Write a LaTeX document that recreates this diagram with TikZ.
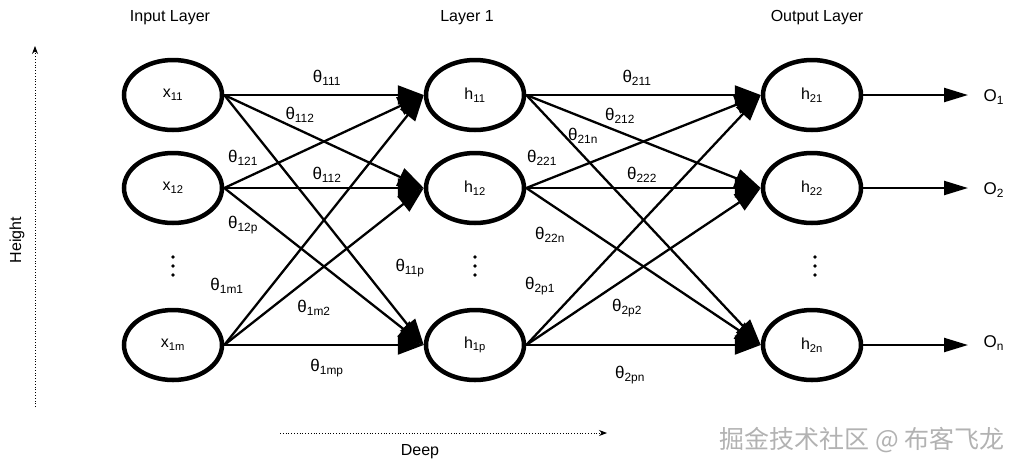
\documentclass[tikz,border=0pt]{standalone}
\usepackage{fontspec}
\setmainfont{Liberation Sans}
\newfontfamily\cjk{Noto Sans CJK SC}
\usetikzlibrary{arrows.meta,shapes.geometric}
\begin{document}
\begin{tikzpicture}[x=1pt,y=-1pt,
  neuron/.style={ellipse,draw,line width=4.5pt,minimum width=98pt,minimum height=70pt,inner sep=0pt,font=\fontsize{16}{16}\selectfont},
  conn/.style={line width=2.3pt,-{Triangle[length=26pt,width=19pt]}},
  wlab/.style={font=\fontsize{17}{17}\selectfont},
  title/.style={font=\fontsize{16}{16}\selectfont}]
\useasboundingbox (0,0) rectangle (1017,472);
% Define the neurons
\node[neuron] (x11) at (173,95) {x\textsubscript{11}};
\node[neuron] (x12) at (173,188) {x\textsubscript{12}};
\node[neuron] (x1m) at (173,345) {x\textsubscript{1m}};
\node[neuron] (h11) at (475,95) {h\textsubscript{11}};
\node[neuron] (h12) at (475,188) {h\textsubscript{12}};
\node[neuron] (h1p) at (475,345) {h\textsubscript{1p}};
\node[neuron] (h21) at (812,95) {h\textsubscript{21}};
\node[neuron] (h22) at (812,188) {h\textsubscript{22}};
\node[neuron] (h2n) at (812,345) {h\textsubscript{2n}};
% Vertical dots
\foreach \px in {173,475,815}
  \foreach \py in {257,266,275}
    \fill (\px,\py) circle (1.8pt);

% Connections between the layers
\foreach \s in {x11,x12,x1m}
  \foreach \t in {h11,h12,h1p}
    \draw[conn] (\s.east) -- (\t.west);
\foreach \s in {h11,h12,h1p}
  \foreach \t in {h21,h22,h2n}
    \draw[conn] (\s.east) -- (\t.west);

% Outputs
\coordinate (o1) at (968,95);
\coordinate (o2) at (968,188);
\coordinate (o3) at (968,345);
\draw[conn,-{Triangle[length=24pt,width=14pt]}] (h21.east) -- (o1);
\draw[conn,-{Triangle[length=24pt,width=14pt]}] (h22.east) -- (o2);
\draw[conn,-{Triangle[length=24pt,width=14pt]}] (h2n.east) -- (o3);
\node[wlab,anchor=west] (O1) at (980,97) {O\textsubscript{1}};
\node[wlab,anchor=west] (O2) at (980,190) {O\textsubscript{2}};
\node[wlab,anchor=west] (On) at (980,343) {O\textsubscript{n}};

% Weight labels
\node[wlab] (t111) at (327,78) {θ\textsubscript{111}};
\node[wlab] (t112) at (300,115) {θ\textsubscript{112}};
\node[wlab] (t121) at (243,158) {θ\textsubscript{121}};
\node[wlab] (t112b) at (327,175) {θ\textsubscript{112}};
\node[wlab] (t12p) at (243,225) {θ\textsubscript{12p}};
\node[wlab] (t1m1) at (227,286) {θ\textsubscript{1m1}};
\node[wlab] (t1m2) at (314,308) {θ\textsubscript{1m2}};
\node[wlab] (t11p) at (410,268) {θ\textsubscript{11p}};
\node[wlab] (t1mp) at (327,368) {θ\textsubscript{1mp}};
\node[wlab] (t211) at (637,78) {θ\textsubscript{211}};
\node[wlab] (t212) at (620,116) {θ\textsubscript{212}};
\node[wlab] (t21n) at (583,136) {θ\textsubscript{21n}};
\node[wlab] (t221) at (542,158) {θ\textsubscript{221}};
\node[wlab] (t222) at (642,175) {θ\textsubscript{222}};
\node[wlab] (t22n) at (550,235) {θ\textsubscript{22n}};
\node[wlab] (t2p1) at (540,286) {θ\textsubscript{2p1}};
\node[wlab] (t2p2) at (627,308) {θ\textsubscript{2p2}};
\node[wlab] (t2pn) at (630,375) {θ\textsubscript{2pn}};

% Titles and axes
\node[title] (tin) at (170,18) {Input Layer};
\node[title] (tl1) at (467,18) {Layer 1};
\node[title] (tout) at (817,18) {Output Layer};
\coordinate (hb) at (35,407);
\coordinate (ht) at (35,46);
\draw[dotted,line width=0.8pt,-{Stealth[length=8pt]}] (hb) -- (ht);
\node[title,rotate=90] (height) at (17,240) {Height};
\coordinate (dl) at (280,433);
\coordinate (dr) at (607,433);
\draw[dotted,line width=0.8pt,-{Stealth[length=8pt]}] (dl) -- (dr);
\node[title] (deep) at (420,452) {Deep};
\node[font=\cjk\fontsize{25}{25}\selectfont,text=gray!60] (wm) at (862,440) {掘金技术社区 @ 布客飞龙};
\end{tikzpicture}
\end{document}
